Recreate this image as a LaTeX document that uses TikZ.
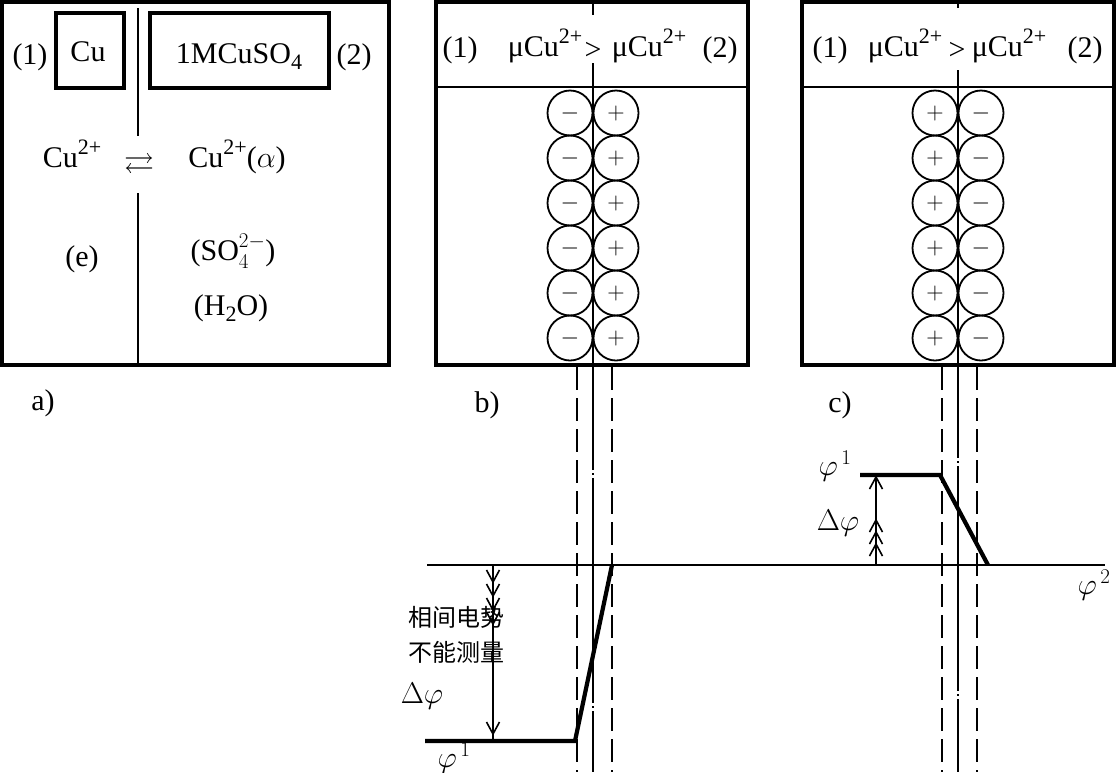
\RequirePackage{fix-cm}
\documentclass[tikz,border=0pt]{standalone}
\usepackage{amssymb}
\usepackage{fontspec}
\setmainfont{Liberation Serif}
\newfontfamily\cjk{Noto Sans CJK SC}
\newcommand\upt[1]{\raisebox{0.42em}{\fontsize{22}{22}\selectfont #1}}
\newcommand\dnt[1]{\raisebox{-0.22em}{\fontsize{22}{22}\selectfont #1}}
\newcommand\chevD[2]{\draw[chev] (#1-6.5,#2-12) -- (#1,#2) -- (#1+6.5,#2-12);}
\newcommand\chevU[2]{\draw[chev] (#1-6.5,#2+12) -- (#1,#2) -- (#1+6.5,#2+12);}
\begin{document}
\begin{tikzpicture}[x=1pt,y=-1pt,
  outer/.style={line width=3.6pt},
  inbox/.style={line width=3.4pt},
  sep/.style={line width=2.6pt},
  thinl/.style={line width=1.8pt},
  chev/.style={line width=1.6pt},
  dashl/.style={line width=1.8pt, dash pattern=on 23pt off 8pt},
  pot/.style={line width=4.2pt, line join=miter},
  txt/.style={font=\fontsize{30}{33}\selectfont, inner sep=0pt, anchor=base},
  mth/.style={font=\fontsize{30}{33}\selectfont, inner sep=0pt},
  ion/.style={circle, draw, line width=1.8pt, minimum size=45pt, inner sep=0pt,
              font=\fontsize{24}{24}\selectfont},
]
\useasboundingbox (0,0) rectangle (1116,772);

% ---------------- panel a ----------------
\draw[outer] (2,2) rectangle (389,365);
\draw[inbox] (56,13) rectangle (124,88);
\draw[inbox] (150,13) rectangle (329,88);
\draw[thinl] (138,8) -- (138,136);
\draw[thinl] (138,193) -- (138,365);
\node[txt] (a1) at (30,64) {(1)};
\node[txt] (acu) at (88,61) {Cu};
\node[txt] (asol) at (239,63) {1MCuSO\dnt{4}};
\node[txt] (a2) at (354,64) {(2)};
\node[txt] (acu2) at (72,167) {Cu\upt{2+}};
\node[font=\fontsize{30}{30}\selectfont, inner sep=0pt] (aeq) at (139,166) {$\rightleftarrows$};
\node[txt] (acua) at (237,167) {Cu\upt{2+}($\alpha$)};
\node[txt] (ae) at (82,266) {(e)};
\node[txt] (aso) at (233,260) {(SO$_4^{2-}$)};
\node[txt] (ah) at (231,315) {(H\dnt{2}O)};
\node[txt] (alab) at (43,410) {a)};

% ---------------- panel b ----------------
\draw[outer] (436,2) rectangle (748,365);
\draw[sep] (436,87) -- (748,87);
\draw[thinl] (593,2) -- (593,15);
\draw[thinl] (593,63) -- (593,365);
\node[txt] (b1) at (460,57) {(1)};
\node[txt] (bm1) at (545,56) {μCu\upt{2+}};
\node[txt] (bgt) at (593,59) {>};
\node[txt] (bm2) at (649,56) {μCu\upt{2+}};
\node[txt] (b2) at (720,57) {(2)};
\foreach \i in {0,...,5}{
  \node[ion] (bl\i) at (570,113+45*\i) {$-$};
  \node[ion] (br\i) at (616,113+45*\i) {$+$};
}
\node[txt] (blab) at (487,412) {b)};

% ---------------- panel c ----------------
\draw[outer] (802,2) rectangle (1114,365);
\draw[sep] (802,87) -- (1114,87);
\draw[thinl] (958,2) -- (958,8);
\draw[thinl] (958,70) -- (958,365);
\node[txt] (c1) at (830,57) {(1)};
\node[txt] (cm1) at (905,56) {μCu\upt{2+}};
\node[txt] (cgt) at (957,59) {>};
\node[txt] (cm2) at (1009,56) {μCu\upt{2+}};
\node[txt] (c2) at (1085,57) {(2)};
\foreach \i in {0,...,5}{
  \node[ion] (cl\i) at (935,113+45*\i) {$+$};
  \node[ion] (cr\i) at (981,113+45*\i) {$-$};
}
\node[txt] (clab) at (840,412) {c)};

% ---------------- lower potential diagrams ----------------
\draw[dashl] (577,367) -- (577,772);
\draw[dashl] (612,367) -- (612,772);
\draw[dashl] (942,367) -- (942,772);
\draw[dashl] (977,367) -- (977,772);
\draw[thinl, dash pattern=on 225pt off 3pt on 2pt off 3pt, dash phase=120pt] (593,365) -- (593,772);
\draw[thinl, dash pattern=on 225pt off 3pt on 2pt off 3pt, dash phase=132pt] (958,365) -- (958,772);
\draw[line width=2.2pt] (427,565) -- (1105,565);
\node[mth] (phi2) at (1094,585) {$\varphi^{\,2}$};

% panel b potential
\draw[pot] (425,741) -- (575,741) -- (612,565);
\node[mth] (phib) at (454,758) {$\varphi^{\,1}$};
\draw[thinl] (493,565) -- (493,741);
\chevD{493}{582}
\chevD{493}{596}
\chevD{493}{610}
\chevD{493}{624}
\chevD{493}{734}
\node[font=\cjk\fontsize{24}{24}\selectfont, inner sep=0pt] (t1) at (456,617) {相间电势};
\node[font=\cjk\fontsize{24}{24}\selectfont, inner sep=0pt] (t2) at (456,652) {不能测量};
\node[mth] (dpb) at (422,696) {$\Delta\varphi$};

% panel c potential
\draw[pot] (860,475) -- (940,475) -- (988,565);
\node[mth] (phic) at (835,466) {$\varphi^{\,1}$};
\draw[thinl] (876,565) -- (876,475);
\chevU{876}{477}
\chevU{876}{520}
\chevU{876}{532}
\chevU{876}{544}
\node[mth] (dpc) at (838,523) {$\Delta\varphi$};
\end{tikzpicture}
\end{document}
